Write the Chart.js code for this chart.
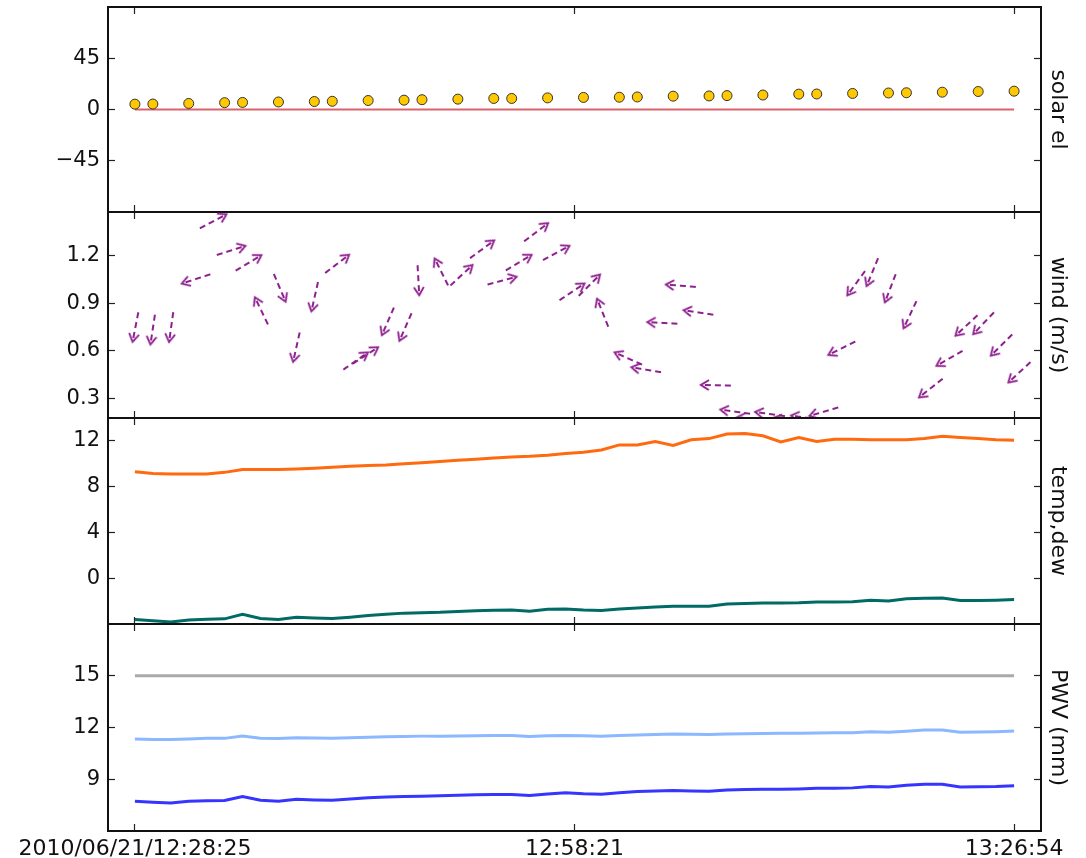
<!DOCTYPE html>
<html>
<head>
<meta charset="utf-8">
<script src="https://cdn.jsdelivr.net/npm/chart.js@4.4.1/dist/chart.umd.min.js"></script>
<style>
  body { margin: 0; background: #fff; }
  #wrap { position: relative; width: 1086px; height: 858px; }
  #wrap canvas { position: absolute; left: 0; top: 0; }
</style>
</head>
<body>
<div id="wrap">
  <canvas id="solarChart" width="1086" height="858"></canvas>
  <canvas id="windChart" width="1086" height="858"></canvas>
  <canvas id="tempChart" width="1086" height="858"></canvas>
  <canvas id="pwvChart" width="1086" height="858"></canvas>
</div>
<script>
// sample index along the time axis
var sampleIdx = [0, 1, 2, 3, 4, 5, 6, 7, 8, 9, 10, 11, 12, 13, 14, 15, 16, 17, 18, 19,
    20, 21, 22, 23, 24, 25, 26, 27, 28, 29, 30, 31, 32, 33, 34, 35, 36, 37, 38, 39,
    40, 41, 42, 43, 44, 45, 46, 47, 48, 49];
var tickPos = [0, 24.5, 49];
var tickLabels = ['2010/06/21/12:28:25', '12:58:21', '13:26:54'];

// solar elevation (deg)
var solarIdx = [0, 1, 3, 5, 6, 8, 10, 11, 13, 15, 16, 18, 20, 21, 23, 25, 27, 28, 30, 32, 33, 35, 37, 38, 40, 42, 43, 45, 47, 49];
var solarEl = [4.7, 4.8, 5.3, 6.0, 6.2, 6.6, 7.0, 7.2, 7.9, 8.2, 8.6, 9.1, 9.7, 9.7, 10.2, 10.6, 10.8, 11.0, 11.7, 11.9,
    12.2, 12.7, 13.5, 13.6, 14.1, 14.5, 14.7, 15.2, 15.8, 16.1];
var horizon = 0;

// wind: position, speed (m/s) and arrow heading (deg, clockwise from +x)
var windIdx = [0.03, 0.99, 2.02, 3.41, 4.36, 5.36, 6.33, 7.05, 8.07, 9.0, 10.02, 11.27, 12.3, 12.85, 14.1, 15.08, 15.8,
    17.08, 18.2, 19.35, 20.46, 21.39, 22.36, 23.48, 24.36, 25.33, 26.07, 27.5, 28.5, 29.4, 30.43, 31.41, 32.38,
    33.46, 34.4, 35.4, 36.4, 37.4, 38.4, 39.4, 40.2, 41.1, 42.1, 43.2, 44.36, 45.4, 46.35, 47.3, 48.3, 49.3];
var windSpeed = [0.75, 0.734, 0.75, 1.054, 1.418, 1.234, 1.155, 0.852, 0.998, 0.623, 0.942, 1.149, 0.535, 0.57, 0.786,
    0.75, 1.046, 1.098, 1.077, 1.241, 1.043, 1.157, 1.349, 1.218, 0.972, 1.014, 0.84, 0.551, 0.48, 0.776, 1.011, 0.842,
    0.382, 0.215, 0.171, 0.2, 0.158, 0.177, 0.215, 0.616, 1.027, 1.097, 0.995, 0.828, 0.364, 0.552, 0.76, 0.774, 0.636, 0.464];
var windDir = [101, 98.6, 98, 162, -27.7, -17.6, -31, -115.7, 67, 102.6, 102.7, -37.2, -35, -33, 113.6, 113.7, 86.8,
    -116.5, -42.8, -36.2, -15, -31, -37.2, -28.2, -33.7, -45, -111.8, -156, -170.5, -177, -175.4, -171.4, -178.7,
    -172, -175, -172, -170, -172, 163.5, 153.5, 126, 112.4, 111, 115.4, 141.7, 150.2, 137.2, 133.6, 135.4, 137.3];

// temperature and dew point (C)
var temp = [9.3, 9.15, 9.1, 9.1, 9.1, 9.25, 9.5, 9.5, 9.5, 9.55, 9.62, 9.7, 9.78, 9.85, 9.9, 10.0, 10.1, 10.2, 10.3, 10.4,
    10.5, 10.6, 10.65, 10.75, 10.9, 11.0, 11.2, 11.65, 11.65, 11.95, 11.6, 12.1, 12.2, 12.6, 12.65, 12.45, 11.9, 12.3, 11.95, 12.15,
    12.15, 12.1, 12.1, 12.1, 12.2, 12.4, 12.3, 12.2, 12.1, 12.05];
var dew = [-3.6, -3.72, -3.82, -3.65, -3.58, -3.55, -3.15, -3.52, -3.6, -3.42, -3.48, -3.52, -3.4, -3.25, -3.15, -3.05, -3.02, -2.98, -2.9, -2.85,
    -2.8, -2.78, -2.88, -2.72, -2.68, -2.78, -2.82, -2.68, -2.6, -2.52, -2.45, -2.45, -2.45, -2.25, -2.2, -2.16, -2.16, -2.14, -2.07, -2.07,
    -2.05, -1.93, -1.98, -1.8, -1.74, -1.72, -1.95, -1.95, -1.92, -1.87];

// PWV (mm)
var pwvLimit = 15;
var pwvHigh = [11.33, 11.31, 11.3, 11.34, 11.37, 11.37, 11.5, 11.38, 11.36, 11.4, 11.39, 11.38, 11.4, 11.44, 11.46, 11.48, 11.5, 11.5, 11.51, 11.52,
    11.53, 11.54, 11.48, 11.52, 11.54, 11.52, 11.5, 11.54, 11.56, 11.6, 11.62, 11.61, 11.6, 11.63, 11.64, 11.65, 11.66, 11.67, 11.68, 11.69,
    11.69, 11.75, 11.72, 11.78, 11.85, 11.85, 11.72, 11.74, 11.76, 11.79];
var pwvLow = [7.72, 7.66, 7.62, 7.72, 7.75, 7.77, 8.0, 7.78, 7.72, 7.84, 7.8, 7.78, 7.85, 7.93, 7.97, 8.0, 8.02, 8.04, 8.07, 8.1,
    8.12, 8.12, 8.06, 8.15, 8.22, 8.16, 8.13, 8.22, 8.29, 8.32, 8.35, 8.32, 8.3, 8.38, 8.4, 8.42, 8.42, 8.44, 8.48, 8.48,
    8.5, 8.58, 8.55, 8.65, 8.71, 8.71, 8.55, 8.57, 8.58, 8.63];

Chart.defaults.font.family = 'DejaVu Sans';
Chart.defaults.font.size = 21;
Chart.defaults.color = '#111';

var windColor = '#8e1f8e';

function pairs(xs, ys) {
    return xs.map(function (x, i) { return {x: x, y: ys[i]}; });
}

function level(v) {
    return [{x: sampleIdx[0], y: v}, {x: sampleIdx[sampleIdx.length - 1], y: v}];
}

// dashed arrow, centred on the point, pointing to +x
function arrowImage() {
    var c = document.createElement('canvas');
    c.width = 44;
    c.height = 22;
    var g = c.getContext('2d');
    g.strokeStyle = windColor;
    g.lineWidth = 2;
    g.setLineDash([6, 4]);
    g.beginPath();
    g.moveTo(7, 11);
    g.lineTo(36, 11);
    g.stroke();
    g.setLineDash([]);
    g.beginPath();
    g.moveTo(29, 6);
    g.lineTo(37, 11);
    g.lineTo(29, 16);
    g.stroke();
    return c;
}

function xAxis(pos, showLabels) {
    return {
        type: 'linear', position: pos, min: -1.5, max: 50.5,
        afterBuildTicks: function (s) { s.ticks = tickPos.map(function (v) { return {value: v}; }); },
        afterFit: function (s) { s.height = showLabels ? 27 : 0; s.paddingLeft = 0; s.paddingRight = 0; },
        grid: {drawOnChartArea: false, tickLength: -7, tickColor: '#222', tickWidth: 1.2},
        border: {color: '#111', width: 2},
        ticks: {display: showLabels, autoSkip: false, maxRotation: 0, padding: 12, font: {size: 22},
            callback: function (v, i) { return tickLabels[i]; }}
    };
}

function yAxis(pos, min, max, ticks, fmt, title) {
    return {
        type: 'linear', position: pos, min: min, max: max,
        afterBuildTicks: function (s) { s.ticks = ticks.map(function (v) { return {value: v}; }); },
        afterFit: function (s) {
            s.width = pos === 'left' ? 108 : 45;
            s.paddingTop = 0;
            s.paddingBottom = 0;
        },
        grid: {drawOnChartArea: false, tickLength: -7, tickColor: '#222', tickWidth: 1.2},
        border: {color: '#111', width: 2},
        ticks: {display: pos === 'left', padding: 15, callback: fmt},
        title: {display: pos === 'right', text: title, font: {size: 22}, color: '#111', padding: {top: 15, bottom: 0}}
    };
}

function panel(id, top, bottom, yMin, yMax, yTicks, fmt, title, datasets, showX) {
    var xh = showX ? 27 : 0;
    return new Chart(document.getElementById(id), {
        type: 'scatter',
        data: {datasets: datasets},
        options: {
            responsive: false,
            animation: false,
            events: [],
            layout: {padding: {top: top, bottom: 858 - bottom - xh, left: 0, right: 0}},
            plugins: {legend: {display: false}, tooltip: {enabled: false}},
            scales: {
                x: xAxis('bottom', showX),
                x2: xAxis('top', false),
                y: yAxis('left', yMin, yMax, yTicks, fmt),
                y2: yAxis('right', yMin, yMax, yTicks, fmt, title)
            }
        }
    });
}

function intFmt(v) { return v < 0 ? '\u2212' + Math.abs(v) : String(v); }
function decFmt(v) { return v.toFixed(1); }

panel('solarChart', 7, 212, -90, 90, [-45, 0, 45], intFmt, 'solar el', [
    {data: pairs(solarIdx, solarEl), pointRadius: 5, pointBorderWidth: 1,
        pointBackgroundColor: '#ffc800', pointBorderColor: '#333'},
    {data: level(horizon), showLine: true, pointRadius: 0, borderColor: 'rgba(205,45,60,0.75)', borderWidth: 2}
], false);

panel('windChart', 212, 418, 0.175, 1.477, [0.3, 0.6, 0.9, 1.2], decFmt, 'wind (m/s)', [
    {data: pairs(windIdx, windSpeed), pointStyle: arrowImage(), pointRotation: windDir,
        pointRadius: 18, clip: 0}
], false);

panel('tempChart', 418, 624, -4, 14, [0, 4, 8, 12], intFmt, 'temp,dew', [
    {data: pairs(sampleIdx, temp), showLine: true, pointRadius: 0, borderColor: '#ff6a10', borderWidth: 3},
    {data: pairs(sampleIdx, dew), showLine: true, pointRadius: 0, borderColor: '#006a64', borderWidth: 3}
], false);

panel('pwvChart', 624, 831, 6, 18, [9, 12, 15], intFmt, 'PWV (mm)', [
    {data: level(pwvLimit), showLine: true, pointRadius: 0, borderColor: '#aaaaaa', borderWidth: 3},
    {data: pairs(sampleIdx, pwvHigh), showLine: true, pointRadius: 0, borderColor: '#8cb8ff', borderWidth: 3},
    {data: pairs(sampleIdx, pwvLow), showLine: true, pointRadius: 0, borderColor: '#3535ff', borderWidth: 3}
], true);
</script>
</body>
</html>
